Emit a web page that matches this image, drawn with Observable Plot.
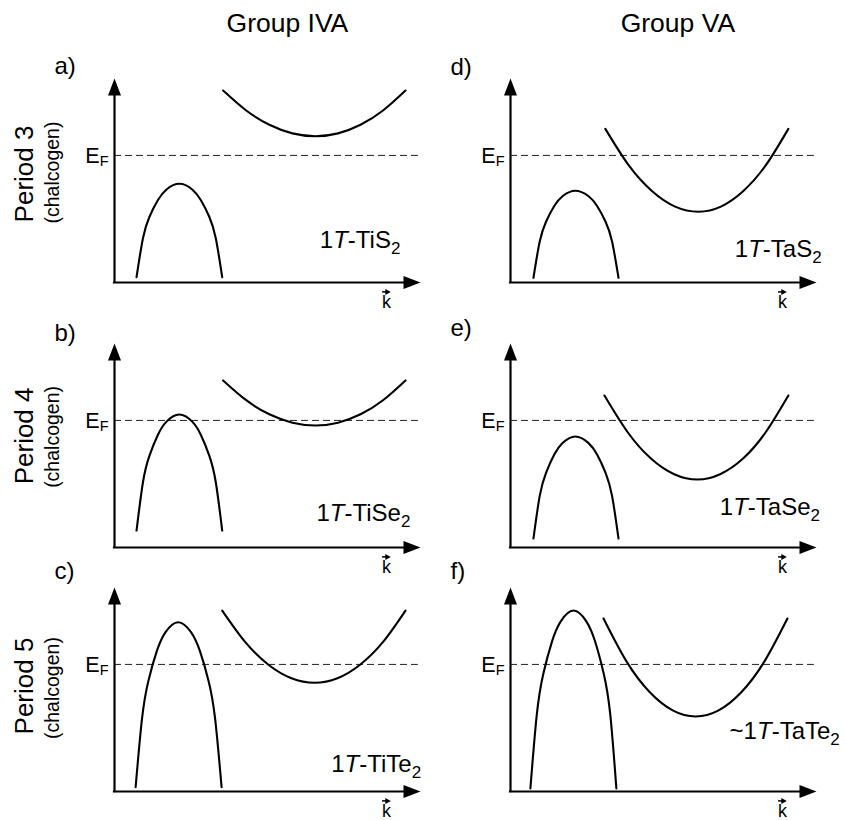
<!DOCTYPE html>
<html>
<head>
<meta charset="utf-8">
<script src="https://cdn.jsdelivr.net/npm/d3@7"></script>
<script src="https://cdn.jsdelivr.net/npm/@observablehq/plot@0.6"></script>
<style>
  body { margin: 0; background: #fff; }
  #chart { position: relative; width: 845px; height: 820px; overflow: hidden; background: #fff; }
  .panel { position: absolute; }
</style>
</head>
<body>
<div id="chart"></div>
<script>
// ---------------- DATA ----------------
const panelIds = ["a", "b", "c", "d", "e", "f"];
const groups = ["Group IVA", "Group VA"];
const periods = ["Period 3", "Period 4", "Period 5"];
const periodNote = "(chalcogen)";
const materials = ["1T-TiS2", "1T-TiSe2", "1T-TiTe2", "1T-TaS2", "1T-TaSe2", "~1T-TaTe2"];
const fermiLevel = 62.3;           // energy of E_F (axis units 0..100)
const kLabel = "k";
const fermiLabel = "EF";

// valence band (k, E), one list per panel
const valenceK = [
  [7.2, 9.3, 11.4, 14.2, 17.0, 21.2, 25.4, 28.2, 31.0, 33.1, 35.2],
  [7.2, 9.3, 11.4, 14.2, 17.0, 21.2, 25.4, 28.2, 31.0, 33.1, 35.2],
  [6.9, 9.0, 11.07, 13.85, 16.63, 20.8, 25.06, 27.9, 30.74, 32.87, 35.0],
  [7.5, 9.55, 11.61, 14.35, 17.09, 21.2, 25.43, 28.25, 31.07, 33.19, 35.3],
  [7.5, 9.55, 11.61, 14.35, 17.09, 21.2, 25.43, 28.25, 31.07, 33.19, 35.3],
  [6.5, 8.61, 10.73, 13.55, 16.37, 20.6, 24.83, 27.65, 30.47, 32.59, 34.6]
];
const valenceE = [
  [2.6, 21.7, 32.1, 40.4, 45.6, 48.4, 45.6, 40.4, 32.1, 21.7, 2.6],
  [8.3, 32.0, 44.9, 55.3, 61.7, 65.2, 61.7, 55.3, 44.9, 32.0, 8.3],
  [2.1, 35.8, 54.2, 68.9, 78.0, 83.0, 78.0, 68.9, 54.2, 35.8, 2.1],
  [2.3, 20.1, 29.8, 37.6, 42.4, 45.0, 42.4, 37.6, 29.8, 20.1, 2.3],
  [4.4, 25.3, 36.6, 45.7, 51.3, 54.4, 51.3, 45.7, 36.6, 25.3, 4.4],
  [1.5, 37.9, 57.7, 73.5, 83.3, 88.7, 83.3, 73.5, 57.7, 37.9, 1.5]
];
// conduction band (k, E)
const conductionK = [
  [35.5, 43.05, 50.6, 58.15, 65.7, 73.05, 80.4, 87.75, 95.1],
  [35.5, 43.05, 50.6, 58.15, 65.7, 73.05, 80.4, 87.75, 95.1],
  [35.2, 42.75, 50.3, 57.85, 65.4, 72.85, 80.25, 87.7, 95.1],
  [31.0, 38.6, 46.2, 53.8, 61.4, 68.75, 76.1, 83.45, 90.8],
  [30.7, 38.3, 45.9, 53.5, 61.1, 68.5, 76.0, 83.4, 90.8],
  [30.4, 37.9, 45.45, 53.0, 60.5, 68.0, 75.5, 83.0, 90.5]
];
const conductionE = [
  [94.1, 84.3, 77.3, 73.1, 71.7, 73.1, 77.3, 84.3, 94.1],
  [81.9, 72.2, 65.3, 61.2, 59.8, 61.2, 65.3, 72.2, 81.9],
  [88.7, 73.2, 62.15, 55.5, 53.3, 55.5, 62.15, 73.2, 88.7],
  [75.3, 57.5, 44.85, 37.2, 34.7, 37.2, 44.85, 57.5, 75.3],
  [74.5, 56.5, 43.6, 35.9, 33.3, 35.9, 43.6, 56.5, 74.5],
  [84.8, 63.8, 48.8, 39.8, 36.8, 39.8, 48.8, 63.8, 84.8]
];

// ---------------- LAYOUT ----------------
const colOriginX = [114, 510];
const rowOriginY = [282, 547, 791];
const ML = 90, MR = 29, MT = 40, MB = 30, PW = 306, PH = 204;
const W = ML + PW + MR, H = MT + PH + MB;
const axisMaxK = 100, axisMaxE = 100;
const axisLineEndK = 96.5, axisLineEndE = 95;
const fermiEndK = 99.3;
const letterK = -19.6;
const letterE = [102, 101, 104.4, 101.8, 103.9, 104.4];
const matK = [67.1, 66.0, 70.8, 73.3, 68.4, 71.6];
const matE = [17.0, 13.2, 9.5, 12.3, 15.7, 25.5];
const kLabK = 88.9, kLabE = -12.3, kArrowE = -4.6;
const headerK = [56.5, 54.7], headerE = 122.7;
const periodK = -26.5, periodE = [53.2, 54.7, 51.7];
const noteK = -18.3, noteE = [53.9, 54.2, 50.7];
const FONT = '"Liberation Sans", Arial, Helvetica, sans-serif';

const upHead = {draw(c) { c.moveTo(0, 0); c.lineTo(6.5, 17); c.lineTo(-6.5, 17); c.closePath(); }};
const rightHead = {draw(c) { c.moveTo(0, 0); c.lineTo(-17, -6.5); c.lineTo(-17, 6.5); c.closePath(); }};
const smallHead = {draw(c) { c.moveTo(0, 0); c.lineTo(-5.5, -3); c.lineTo(-5.5, 3); c.closePath(); }};

const NS = "http://www.w3.org/2000/svg";
function richParts(s) {
  if (s === fermiLabel) return [{t: "E"}, {t: "F", sub: true, size: 14.5, dy: 2.5}];
  const m = /^(~?1)(T)(-[A-Za-z]+?)(\d)$/.exec(s);
  if (m) return [{t: m[1]}, {t: m[2], it: true}, {t: m[3]}, {t: m[4], sub: true, size: 17, dy: 6}];
  return null;
}
function enrich(svg) {
  svg.querySelectorAll("text").forEach(el => {
    const parts = richParts(el.textContent);
    if (!parts) return;
    el.textContent = "";
    for (const p of parts) {
      const ts = document.createElementNS(NS, "tspan");
      ts.textContent = p.t;
      if (p.it) ts.setAttribute("font-style", "italic");
      if (p.sub) { ts.setAttribute("font-size", p.size); ts.setAttribute("dy", p.dy); }
      el.appendChild(ts);
    }
  });
}

const chart = document.getElementById("chart");
panelIds.forEach((id, p) => {
  const col = Math.floor(p / 3), row = p % 3;
  const bands = [
    ...valenceK[p].map((k, i) => ({band: "valence", k, E: valenceE[p][i]})),
    ...conductionK[p].map((k, i) => ({band: "conduction", k, E: conductionE[p][i]}))
  ];
  const marks = [
    Plot.ruleY([fermiLevel], {x1: 0, x2: fermiEndK, stroke: "#222", strokeWidth: 1, strokeDasharray: "7,4"}),
    Plot.line(bands, {x: "k", y: "E", z: "band", curve: "natural", stroke: "black", strokeWidth: 2.1}),
    Plot.ruleX([0], {y1: 0, y2: axisLineEndE, stroke: "black", strokeWidth: 2.2, strokeLinecap: "square"}),
    Plot.ruleY([0], {x1: 0, x2: axisLineEndK, stroke: "black", strokeWidth: 2.2, strokeLinecap: "square"}),
    Plot.dot([0], {x: 0, y: axisMaxE, symbol: upHead, fill: "black"}),
    Plot.dot([0], {x: axisMaxK, y: 0, symbol: rightHead, fill: "black"}),
    Plot.text([fermiLabel], {x: 0, y: fermiLevel, dx: -6, dy: 8, text: d => d, textAnchor: "end", lineAnchor: "bottom", fontSize: 21.5, fill: "black"}),
    Plot.text([id + ")"], {x: letterK, y: letterE[p], text: d => d, textAnchor: "start", lineAnchor: "bottom", fontSize: 24, fill: "black"}),
    Plot.text([materials[p]], {x: matK[p], y: matE[p], text: d => d, textAnchor: "start", lineAnchor: "bottom", fontSize: 24, fill: "black"}),
    Plot.text([kLabel], {x: kLabK, y: kLabE, text: d => d, textAnchor: "middle", lineAnchor: "bottom", fontSize: 18, fill: "black"}),
    Plot.ruleY([kArrowE], {x1: kLabK - 1.3, x2: kLabK + 0.4, stroke: "black", strokeWidth: 1.5}),
    Plot.dot([0], {x: kLabK + 1.4, y: kArrowE, symbol: smallHead, fill: "black"})
  ];
  if (row === 0) {
    marks.push(Plot.text([groups[col]], {x: headerK[col], y: headerE, text: d => d, textAnchor: "middle", lineAnchor: "bottom", fontSize: 26.5, fill: "black"}));
  }
  if (col === 0) {
    marks.push(Plot.text([periods[row]], {x: periodK, y: periodE[row], text: d => d, rotate: -90, textAnchor: "middle", lineAnchor: "bottom", fontSize: 26, fill: "black"}));
    marks.push(Plot.text([periodNote], {x: noteK, y: noteE[row], text: d => d, rotate: -90, textAnchor: "middle", lineAnchor: "bottom", fontSize: 19.5, fill: "black"}));
  }
  const svg = Plot.plot({
    width: W, height: H,
    marginLeft: ML, marginRight: MR, marginTop: MT, marginBottom: MB,
    x: {domain: [0, axisMaxK], axis: null},
    y: {domain: [0, axisMaxE], axis: null},
    style: {overflow: "visible", background: "transparent", fontFamily: FONT},
    marks
  });
  enrich(svg);
  const div = document.createElement("div");
  div.className = "panel";
  div.style.left = (colOriginX[col] - ML) + "px";
  div.style.top = (rowOriginY[row] - MT - PH) + "px";
  div.style.width = W + "px";
  div.style.height = H + "px";
  div.appendChild(svg);
  chart.appendChild(div);
});
</script>
</body>
</html>
